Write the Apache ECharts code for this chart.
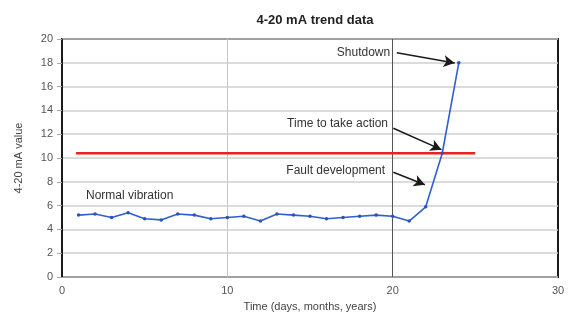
<!DOCTYPE html>
<html>
<head>
<meta charset="utf-8">
<script src="https://cdn.jsdelivr.net/npm/echarts@6/dist/echarts.min.js"></script>
<style>
  html, body { margin: 0; padding: 0; background: #fff; }
  #chart { width: 574px; height: 320px; }
</style>
</head>
<body>
<div id="chart"></div>
<script>
// readings, one per time step
const timeSteps = [1, 2, 3, 4, 5, 6, 7, 8, 9, 10, 11, 12, 13, 14, 15, 16, 17, 18, 19, 20, 21, 22, 23, 24];
const mAValues = [5.2, 5.3, 5.0, 5.4, 4.9, 4.8, 5.3, 5.2, 4.9, 5.0, 5.1, 4.7, 5.3, 5.2, 5.1, 4.9, 5.0, 5.1, 5.2, 5.1, 4.7, 5.9, 10.4, 18];

// action threshold line
const thresholdX = [0.85, 25];
const thresholdValue = 10.4;

const xTicks = [0, 10, 20, 30];
const yTicks = [0, 2, 4, 6, 8, 10, 12, 14, 16, 18, 20];

// annotation texts (anchor in data units) and their arrows
const noteTexts = ["Shutdown", "Time to take action", "Fault development", "Normal vibration"];
const noteAnchors = [[19.85, 18.85], [19.72, 12.92], [19.54, 8.93], [1.45, 6.8]];
const noteSides = ["left", "left", "left", "right"];
const arrowFrom = [[20.25, 18.85], [20.04, 12.5], [20.04, 8.8]];
const arrowTo = [[23.75, 17.98], [22.95, 10.7], [21.95, 7.75]];

const chart = echarts.init(document.getElementById("chart"));

const font = "'Liberation Sans', Arial, sans-serif";

chart.setOption({
  animation: false,
  title: {
    text: "4-20 mA trend data",
    left: 310,
    textAlign: "center",
    top: 9,
    textStyle: { fontSize: 13, fontWeight: "bold", color: "#222", fontFamily: font },
  },
  grid: {
    left: 62,
    right: 16,
    top: 39,
    bottom: 43,
    show: true,
    borderColor: "#1a1a1a",
    borderWidth: 2,
  },
  xAxis: {
    type: "value",
    min: 0,
    max: 30,
    interval: 10,
    name: "Time (days, months, years)",
    nameLocation: "middle",
    nameGap: 24,
    nameTextStyle: { fontSize: 11, color: "#444", fontFamily: font },
    axisLine: { show: false },
    axisTick: { show: false },
    axisLabel: {
      fontSize: 11,
      color: "#555",
      fontFamily: font,
      margin: 8,
      formatter: (v) => (xTicks.includes(v) ? String(v) : ""),
    },
    splitLine: {
      show: true,
      lineStyle: { color: ["#1a1a1a", "#c8c8c8", "#555", "#1a1a1a"], width: 1 },
    },
  },
  yAxis: {
    type: "value",
    min: 0,
    max: 20,
    interval: 2,
    name: "4-20 mA value",
    nameLocation: "middle",
    nameGap: 38,
    nameTextStyle: { fontSize: 11, color: "#444", fontFamily: font },
    axisLine: { show: false },
    axisTick: { show: true, length: 5, lineStyle: { color: "#aaa" } },
    axisLabel: {
      fontSize: 11,
      color: "#555",
      fontFamily: font,
      margin: 9,
      formatter: (v) => (yTicks.includes(v) ? String(v) : ""),
    },
    splitLine: { show: true, lineStyle: { color: "#cfcfcf", width: 1.5 } },
  },
  series: [
    {
      name: "Threshold",
      type: "line",
      data: thresholdX.map((x) => [x, thresholdValue]),
      symbol: "none",
      lineStyle: { color: "#e8231f", width: 2.5 },
      z: 2,
    },
    {
      name: "4-20 mA",
      type: "line",
      data: timeSteps.map((t, i) => [t, mAValues[i]]),
      symbol: "circle",
      symbolSize: 3.5,
      showSymbol: true,
      lineStyle: { color: "#2f5fd0", width: 1.6 },
      itemStyle: { color: "#2a52b8" },
      z: 3,
      markPoint: {
        silent: true,
        symbol: "circle",
        symbolSize: 0,
        data: noteTexts.map((txt, i) => ({
          coord: noteAnchors[i],
          value: txt,
          label: {
            show: true,
            position: noteSides[i],
            distance: 0,
            formatter: txt,
            fontSize: 12,
            color: "#333",
            fontFamily: font,
          },
        })),
      },
      markLine: {
        silent: true,
        symbol: ["none", "arrow"],
        symbolSize: [9, 11],
        label: { show: false },
        lineStyle: { color: "#1a1a1a", width: 1.5, type: "solid" },
        data: arrowFrom.map((p, i) => [{ coord: p }, { coord: arrowTo[i] }]),
      },
    },
  ],
});
</script>
</body>
</html>
